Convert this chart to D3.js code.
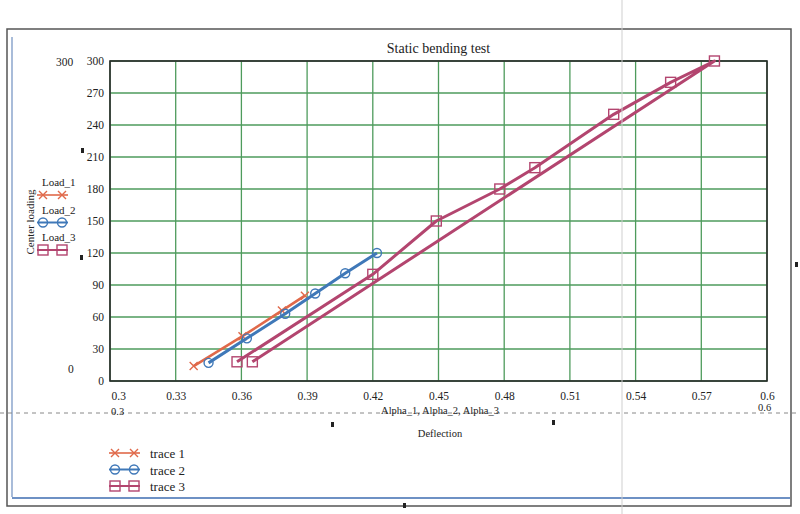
<!DOCTYPE html>
<html>
<head>
<meta charset="utf-8">
<script src="https://cdn.jsdelivr.net/npm/d3@7"></script>
<style>
    body { margin: 0; background: #ffffff; }
    svg text { font-family: "Liberation Serif", "DejaVu Serif", serif; fill: #222; }
</style>
</head>
<body>
<svg width="800" height="514"></svg>
<script>
// values
var alpha_1 = [0.3382, 0.3605, 0.3785, 0.389];
var load_1 = [14, 42, 66, 80];

var alpha_2 = [0.345, 0.3625, 0.380, 0.3937, 0.4074, 0.4219];
var load_2 = [17, 40, 63, 82, 101, 120];

// trace 3 goes up the upper path and comes back down straight
var alpha_3 = [0.358, 0.42, 0.449, 0.478, 0.494, 0.53, 0.556, 0.576, 0.365];
var load_3 = [18, 100, 150, 180, 200, 250, 280, 300, 18];

var x_ticks = [0.3, 0.33, 0.36, 0.39, 0.42, 0.45, 0.48, 0.51, 0.54, 0.57, 0.6];
var y_ticks = [0, 30, 60, 90, 120, 150, 180, 210, 240, 270, 300];
var trace_names = ["trace 1", "trace 2", "trace 3"];
var load_names = ["Load_1", "Load_2", "Load_3"];

var trace_colors = ["#e0694a", "#3f78b8", "#b3456f"];
var grid_color = "#4e9b5c";

function zip_points(xs, ys) {
    var pts = [];
    for (var i = 0; i < xs.length; i++) {
        pts.push({ x: xs[i], y: ys[i] });
    }
    return pts;
}

function setup_svg() {
    var svg = d3.select("svg"),
        margin = { top: 61, right: 33, bottom: 133, left: 110 },
        width = svg.attr("width") - margin.left - margin.right,
        height = svg.attr("height") - margin.top - margin.bottom,
        g = svg.append("g").attr("transform", "translate(" + margin.left + "," + margin.top + ")");
    return { width, height, g, svg, margin };
}

function draw_marker(sel, kind, color) {
    if (kind == 0) {
        sel.append("path")
            .attr("d", "M-4,-4L4,4M-4,4L4,-4")
            .attr("stroke", color)
            .attr("stroke-width", 1.4)
            .attr("fill", "none");
    } else if (kind == 1) {
        sel.append("circle")
            .attr("r", 4.5)
            .attr("stroke", color)
            .attr("stroke-width", 1.4)
            .attr("fill", "none");
    } else {
        sel.append("rect")
            .attr("x", -5).attr("y", -5)
            .attr("width", 10).attr("height", 10)
            .attr("stroke", color)
            .attr("stroke-width", 1.4)
            .attr("fill", "none");
    }
}

function legend_sample(svg, x, y, kind, color) {
    svg.append("line")
        .attr("x1", x).attr("x2", x + 31)
        .attr("y1", y).attr("y2", y)
        .attr("stroke", color)
        .attr("stroke-width", kind == 0 ? 1.6 : 2);
    draw_marker(svg.append("g").attr("transform", "translate(" + (x + 6) + "," + y + ")"), kind, color);
    draw_marker(svg.append("g").attr("transform", "translate(" + (x + 25) + "," + y + ")"), kind, color);
}

function draw_page_frame(svg) {
    // scanned page frame and stray marks
    svg.append("rect")
        .attr("x", 7).attr("y", 29)
        .attr("width", 784).attr("height", 477)
        .attr("fill", "none")
        .attr("stroke", "#555")
        .attr("stroke-width", 1.5);
    svg.append("line")
        .attr("x1", 12).attr("x2", 12).attr("y1", 37).attr("y2", 497)
        .attr("stroke", "#6f8fc0").attr("stroke-width", 1.2);
    svg.append("line")
        .attr("x1", 12).attr("x2", 790).attr("y1", 498).attr("y2", 498)
        .attr("stroke", "#3e6db0").attr("stroke-width", 1.5);
    svg.append("line")
        .attr("x1", 622).attr("x2", 622).attr("y1", 0).attr("y2", 514)
        .attr("stroke", "#cfcfcf").attr("stroke-width", 1);
    svg.append("line")
        .attr("x1", 0).attr("x2", 800).attr("y1", 413).attr("y2", 413)
        .attr("stroke", "#888").attr("stroke-width", 1)
        .attr("stroke-dasharray", "4,4");

    var marks = [[81, 148], [80, 255], [331, 422], [552, 420], [403, 503], [795, 262]];
    svg.selectAll(".mark")
        .data(marks)
        .enter().append("rect")
        .attr("class", "mark")
        .attr("x", function (d) { return d[0]; })
        .attr("y", function (d) { return d[1]; })
        .attr("width", 3).attr("height", 5)
        .attr("fill", "#222");
}

function display_chart() {
    var { width, height, g, svg, margin } = setup_svg();

    draw_page_frame(svg);

    var x_scale = d3.scaleLinear().domain([0.3, 0.6]).range([0, width]);
    var y_scale = d3.scaleLinear().domain([0, 300]).range([height, 0]);

    // green grid
    g.selectAll(".vgrid")
        .data(x_ticks)
        .enter().append("line")
        .attr("x1", function (d) { return x_scale(d); })
        .attr("x2", function (d) { return x_scale(d); })
        .attr("y1", 0).attr("y2", height)
        .attr("stroke", grid_color).attr("stroke-width", 1.3);
    g.selectAll(".hgrid")
        .data(y_ticks)
        .enter().append("line")
        .attr("y1", function (d) { return y_scale(d); })
        .attr("y2", function (d) { return y_scale(d); })
        .attr("x1", 0).attr("x2", width)
        .attr("stroke", grid_color).attr("stroke-width", 1.3);

    g.append("rect")
        .attr("width", width).attr("height", height)
        .attr("fill", "none")
        .attr("stroke", "#2a2a2a")
        .attr("stroke-width", 1.6);

    // axes, only labels are kept
    var x_axis = g.append("g")
        .attr("transform", "translate(0," + height + ")")
        .call(d3.axisBottom(x_scale).tickValues(x_ticks).tickSize(0).tickPadding(11)
            .tickFormat(function (d) { return String(+d.toFixed(2)); }));
    var y_axis = g.append("g")
        .call(d3.axisLeft(y_scale).tickValues(y_ticks).tickSize(0).tickPadding(6));
    [x_axis, y_axis].forEach(function (a) {
        a.select(".domain").remove();
        a.selectAll("text")
            .attr("font-family", "Liberation Serif, serif")
            .attr("font-size", 11.5)
            .attr("fill", "#222");
    });
    x_axis.selectAll("text")
        .filter(function (d) { return d == 0.3; })
        .attr("text-anchor", "start").attr("x", 1);

    // the three traces
    var line = d3.line()
        .x(function (d) { return x_scale(d.x); })
        .y(function (d) { return y_scale(d.y); });

    var traces = [
        zip_points(alpha_3, load_3),
        zip_points(alpha_1, load_1),
        zip_points(alpha_2, load_2)
    ];
    var kinds = [2, 0, 1];
    var widths = [3, 2.6, 3];

    for (var t = 0; t < traces.length; t++) {
        var color = trace_colors[kinds[t]];
        g.append("path")
            .datum(traces[t])
            .attr("fill", "none")
            .attr("stroke", color)
            .attr("stroke-width", widths[t])
            .attr("stroke-linejoin", "round")
            .attr("d", line);
        g.selectAll(".m" + t)
            .data(traces[t])
            .enter().append("g")
            .attr("class", "m" + t)
            .attr("transform", function (d) {
                return "translate(" + x_scale(d.x) + "," + y_scale(d.y) + ")";
            })
            .each(function () { draw_marker(d3.select(this), kinds[t], color); });
    }

    // texts
    svg.append("text")
        .attr("x", margin.left + width / 2).attr("y", 53)
        .attr("text-anchor", "middle")
        .attr("font-size", 14)
        .text("Static bending test");
    svg.append("text")
        .attr("x", 56).attr("y", 66).attr("font-size", 11.5).text("300");
    svg.append("text")
        .attr("x", 68).attr("y", 373).attr("font-size", 11.5).text("0");
    svg.append("text")
        .attr("transform", "translate(34,222) rotate(-90)")
        .attr("text-anchor", "middle")
        .attr("font-size", 11)
        .text("Center loading");
    svg.append("text")
        .attr("x", 111).attr("y", 415).attr("font-size", 10.5).text("0.3");
    svg.append("text")
        .attr("x", 758).attr("y", 411).attr("font-size", 10.5).text("0.6");
    svg.append("text")
        .attr("x", 440).attr("y", 414)
        .attr("text-anchor", "middle").attr("font-size", 10.5)
        .text("Alpha_1, Alpha_2, Alpha_3");
    svg.append("text")
        .attr("x", 440).attr("y", 437)
        .attr("text-anchor", "middle").attr("font-size", 10.5)
        .text("Deflection");

    // left legend
    for (var i = 0; i < load_names.length; i++) {
        svg.append("text")
            .attr("x", 42).attr("y", 186 + i * 27.5)
            .attr("font-size", 11)
            .text(load_names[i]);
        legend_sample(svg, 37, 195 + i * 27.5, i, trace_colors[i]);
    }

    // bottom legend
    for (var i = 0; i < trace_names.length; i++) {
        legend_sample(svg, 109, 453 + i * 16.5, i, trace_colors[i]);
        svg.append("text")
            .attr("x", 150).attr("y", 458 + i * 16.5)
            .attr("font-size", 13)
            .text(trace_names[i]);
    }
}

display_chart();
</script>
</body>
</html>
